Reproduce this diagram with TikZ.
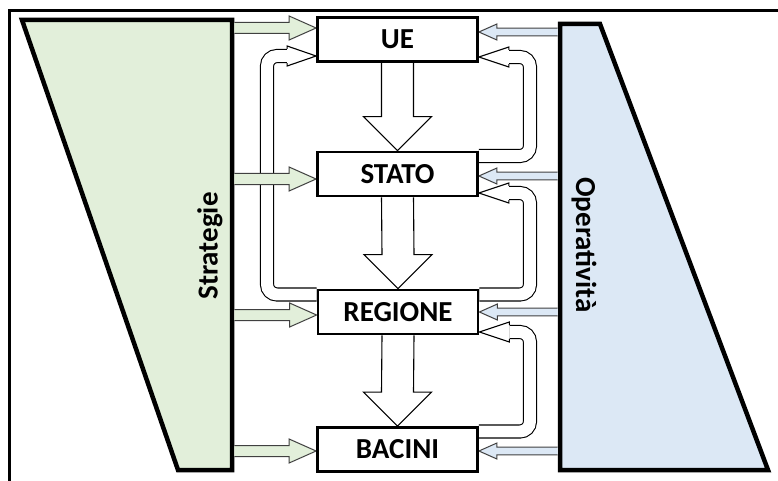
\documentclass[tikz,border=0pt]{standalone}
\usepackage{fontspec}
\setmainfont{Carlito}
\usetikzlibrary{calc}
\definecolor{stratgreen}{HTML}{E2EFDA}
\definecolor{opblue}{HTML}{DCE8F5}
\pgfdeclarelayer{bg}
\pgfsetlayers{bg,main}
\newcommand\flowright[2]{%
  \filldraw[gflow] ($(#1)+(0,-5.5)$) -- ($(#2)+(-27,-5.5)$) -- ($(#2)+(-27,-12)$) -- (#2)
    -- ($(#2)+(-27,12)$) -- ($(#2)+(-27,5.5)$) -- ($(#1)+(0,5.5)$);}
\newcommand\flowleft[2]{%
  \filldraw[bflow] ($(#1)+(0,-3.8)$) -- ($(#2)+(18,-3.8)$) -- ($(#2)+(18,-8)$) -- (#2)
    -- ($(#2)+(18,8)$) -- ($(#2)+(18,3.8)$) -- ($(#1)+(0,3.8)$);}
\newcommand\downflow[2]{%
  \filldraw[hollow] ($(#1.south)+(-16,0)$) -- ($(#2.north)+(-16,-34)$) -- ($(#2.north)+(-34,-34)$)
    -- (#2.north) -- ($(#2.north)+(34,-34)$) -- ($(#2.north)+(16,-34)$) -- ($(#1.south)+(16,0)$);}
\newcommand\loopback[4]{% start, tip, vertical x coordinate, head length (signed)
  \draw[loopshaft] (#1) -- (#3 |- #1) -- (#3 |- #2) -- ($(#2)+(#4,0)$);
  \filldraw[hollow] ($(#2)+(#4,-7.05)$) -- ($(#2)+(#4,-10)$) -- (#2)
    -- ($(#2)+(#4,10)$) -- ($(#2)+(#4,7.05)$);}
\begin{document}
\begin{tikzpicture}[x=1pt,y=-1pt,
  levelbox/.style={draw,line width=2.8pt,fill=white,minimum width=160pt,minimum height=44pt,
    inner sep=0pt,font=\fontsize{29}{33}\selectfont\bfseries},
  sidelabel/.style={font=\fontsize{29}{33}\selectfont\bfseries,inner sep=0pt},
  trap/.style={draw,line width=4.5pt,miter limit=10},
  hollow/.style={draw,line width=1.1pt,fill=white},
  loopshaft/.style={draw,line width=1.1pt,double=white,double distance=11.9pt,rounded corners=10pt},
  gflow/.style={draw=black!75,line width=1pt,fill=stratgreen},
  bflow/.style={draw=black!75,line width=1pt,fill=opblue}]
\useasboundingbox (0,0) rectangle (778,481);

% level boxes
\node[levelbox] (ue) at (397.5,39.5) {UE};
\node[levelbox] (stato) at (397.5,174) {STATO};
\node[levelbox] (regione) at (398,312) {REGIONE};
\node[levelbox] (bacini) at (397.5,449.5) {BACINI};

\begin{pgfonlayer}{bg}
% frame
\draw[line width=2.3pt] (9.5,481) -- (9.5,10.5) -- (778,10.5);
% side trapezoids
\filldraw[trap,fill=stratgreen] (22,20) -- (232,20) -- (232,470) -- (178,470) -- cycle;
\filldraw[trap,fill=opblue] (560,24) -- (600,24) -- (768,470) -- (560,470) -- cycle;
\node[sidelabel,rotate=90] (strat) at (210,246) {Strategie};
\node[sidelabel,rotate=-90] (oper) at (584,245) {Operatività};

% coordinates
\coordinate (rx) at (530,0);
\coordinate (lx) at (267,0);
\coordinate (s1) at ($(stato.east)+(0,-18)$);
\coordinate (t1) at ($(ue.east)+(0,17.5)$);
\coordinate (s2) at ($(regione.east)+(0,-17.5)$);
\coordinate (t2) at ($(stato.east)+(0,19)$);
\coordinate (s3) at ($(bacini.east)+(0,-18)$);
\coordinate (t3) at ($(regione.east)+(0,20)$);
\coordinate (ls) at ($(regione.west)+(0,-17.5)$);
\coordinate (lt) at ($(ue.west)+(0,16.5)$);

% feedback loops
\loopback{s1}{t1}{rx}{30}
\loopback{s2}{t2}{rx}{30}
\loopback{s3}{t3}{rx}{30}
\loopback{ls}{lt}{lx}{-29}

% downward flows
\downflow{ue}{stato}
\downflow{stato}{regione}
\downflow{regione}{bacini}

% strategy flows
\coordinate (g1) at (234.3,28);
\coordinate (g2) at (234.3,179);
\coordinate (g3) at (234.3,315);
\coordinate (g4) at (234.3,451);
\flowright{g1}{ue.west |- g1}
\flowright{g2}{stato.west |- g2}
\flowright{g3}{regione.west |- g3}
\flowright{g4}{bacini.west |- g4}

% operational flows
\coordinate (b1) at (557.7,32);
\coordinate (b2) at (557.7,176);
\coordinate (b3) at (557.7,312);
\coordinate (b4) at (557.7,451);
\flowleft{b1}{ue.east |- b1}
\flowleft{b2}{stato.east |- b2}
\flowleft{b3}{regione.east |- b3}
\flowleft{b4}{bacini.east |- b4}
\end{pgfonlayer}
\end{tikzpicture}
\end{document}
